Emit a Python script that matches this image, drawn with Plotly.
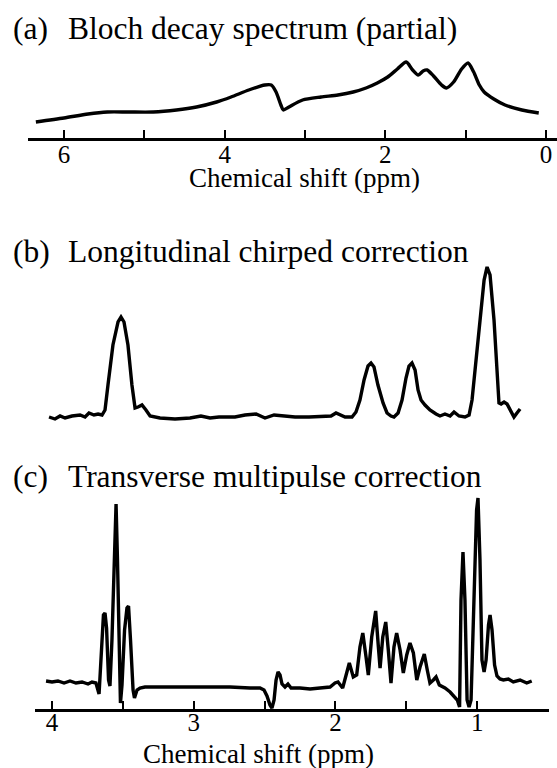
import plotly.graph_objects as go

W, H = 557, 768
FONT = "Liberation Serif"

# ---------------- data ----------------
# (a) Bloch decay spectrum: chemical shift (ppm) vs intensity (a.u.)
A_PPM = [6.35, 6.00, 5.70, 5.46, 5.20, 4.89, 4.60, 4.35, 4.10, 3.92, 3.70, 3.50, 3.42, 3.36, 3.30, 3.27,
         3.20, 3.03, 2.80, 2.59, 2.40, 2.24, 2.10, 1.97, 1.85, 1.74, 1.66, 1.59, 1.53, 1.48, 1.40,
         1.30, 1.24, 1.15, 1.05, 0.97, 0.90, 0.83, 0.77, 0.65, 0.51, 0.30, 0.09]
A_INT = [16, 20, 24, 26, 26, 26, 28, 31, 36, 41, 48, 53, 53, 46, 33, 28,
         31, 38, 41, 43, 46, 50, 55, 61, 69, 76, 68, 63, 67, 68, 62,
         53, 50, 56, 69, 75, 66, 53, 46, 39, 33, 28, 25]

# (b) Longitudinal chirped correction
B_PPM = [4.021, 3.979, 3.943, 3.908, 3.859, 3.802, 3.767, 3.739, 3.704, 3.675, 3.647, 3.626, 3.605,
         3.570, 3.534, 3.513, 3.492, 3.464, 3.436, 3.414, 3.393, 3.365, 3.337, 3.308, 3.238, 3.132,
         3.026, 2.949, 2.885, 2.822, 2.709, 2.638, 2.560, 2.497, 2.433, 2.285, 2.186, 2.031, 1.996,
         1.932, 1.883, 1.855, 1.827, 1.798, 1.770, 1.749, 1.728, 1.700, 1.664, 1.636, 1.608, 1.587,
         1.558, 1.530, 1.502, 1.481, 1.460, 1.438, 1.417, 1.396, 1.368, 1.333, 1.290, 1.262, 1.227,
         1.191, 1.163, 1.128, 1.086, 1.057, 1.036, 1.008, 0.980, 0.951, 0.930, 0.909, 0.881, 0.860,
         0.846, 0.831, 0.810, 0.789, 0.761, 0.740, 0.719, 0.697]
B_INT = [3, 1, 4, 2, 4, 5, 3, 7, 5, 6, 5, 10, 35,
         75, 98, 103, 98, 75, 35, 12, 13, 15, 10, 4, 2, 1,
         2, 4, 2, 3, 3, 5, 6, 2, 5, 3, 3, 4, 7,
         3, 3, 8, 20, 40, 54, 57, 53, 35, 17, 7, 4, 3,
         7, 20, 42, 54, 57, 50, 30, 20, 15, 10, 6, 4, 6,
         4, 8, 4, 3, 5, 20, 60, 100, 140, 153, 145, 100, 50,
         17, 16, 18, 16, 8, 3, 7, 11]

# (c) Transverse multipulse correction
C_PPM = [4.042, 4.000, 3.958, 3.915, 3.873, 3.831, 3.788, 3.746, 3.718, 3.690, 3.668, 3.651, 3.637,
         3.626, 3.615, 3.601, 3.591, 3.577, 3.563, 3.548, 3.538, 3.527, 3.517, 3.506, 3.488, 3.471,
         3.460, 3.446, 3.428, 3.418, 3.400, 3.379, 3.344, 3.167, 2.956, 2.744, 2.603, 2.532, 2.504,
         2.483, 2.462, 2.448, 2.433, 2.419, 2.405, 2.391, 2.377, 2.356, 2.335, 2.313, 2.250, 2.179,
         2.109, 2.038, 2.003, 1.982, 1.949, 1.920, 1.902, 1.874, 1.850, 1.827, 1.807, 1.784, 1.768,
         1.744, 1.716, 1.697, 1.685, 1.666, 1.645, 1.627, 1.608, 1.587, 1.568, 1.544, 1.521, 1.497,
         1.474, 1.450, 1.426, 1.403, 1.373, 1.352, 1.333, 1.309, 1.290, 1.267, 1.227, 1.191, 1.156,
         1.140, 1.124, 1.114, 1.100, 1.086, 1.071, 1.057, 1.043, 1.022, 1.004, 0.994, 0.980, 0.966,
         0.951, 0.937, 0.920, 0.909, 0.895, 0.877, 0.860, 0.839, 0.815, 0.780, 0.745, 0.697, 0.650,
         0.615]
C_INT = [28, 27, 28, 26, 28, 26, 27, 25, 27, 26, 15, 59, 94,
         96, 81, 29, 23, 69, 149, 205, 149, 49, 6, 24, 79, 101,
         103, 69, 19, 11, 19, 21, 22, 22, 22, 22, 21, 21, 19,
         13, 4, 1, 9, 29, 37, 34, 25, 22, 25, 21, 21, 20,
         21, 22, 26, 27, 21, 36, 46, 32, 34, 62, 76, 52, 34,
         72, 98, 62, 41, 72, 87, 59, 26, 62, 76, 59, 36, 54,
         66, 56, 29, 42, 55, 39, 26, 29, 32, 24, 21, 17, 11,
         9, 2, 109, 157, 109, 9, 2, 9, 129, 199, 211, 149, 49,
         37, 49, 84, 94, 79, 44, 33, 30, 29, 30, 27, 29, 26,
         28]

TITLES = ["Bloch decay spectrum (partial)", "Longitudinal chirped correction",
          "Transverse multipulse correction"]
LABELS = ["(a)", "(b)", "(c)"]
AXIS_TITLE = "Chemical shift (ppm)"

# ---------------- figure ----------------
def py(px):
    return 1 - px / H

def pxx(px):
    return px / W

fig = go.Figure()
line = dict(color="black", width=3.4)
fig.add_trace(go.Scatter(x=A_PPM, y=A_INT, mode="lines", line=dict(shape="spline", smoothing=0.7, **line),
                         xaxis="x", yaxis="y", showlegend=False, hoverinfo="skip"))
fig.add_trace(go.Scatter(x=B_PPM, y=B_INT, mode="lines", line=line,
                         xaxis="x2", yaxis="y2", showlegend=False, hoverinfo="skip"))
fig.add_trace(go.Scatter(x=C_PPM, y=C_INT, mode="lines", line=line,
                         xaxis="x3", yaxis="y3", showlegend=False, hoverinfo="skip"))

tickfont = dict(family=FONT, size=25, color="black")
common_x = dict(showline=True, linecolor="black", linewidth=2.5, showgrid=False, zeroline=False,
                ticks="inside", ticklen=8, tickwidth=2, tickcolor="black", tickfont=tickfont)

fig.update_layout(
    width=W, height=H, margin=dict(l=0, r=0, t=0, b=0),
    paper_bgcolor="white", plot_bgcolor="white",
    xaxis=dict(domain=[pxx(28), 1.0], range=[6.448, -0.137], anchor="y", tick0=0, dtick=2,
               minor=dict(ticks="inside", dtick=1, tick0=0, ticklen=8, tickwidth=2, tickcolor="black"),
               ticklabelstandoff=-8, **common_x),
    yaxis=dict(domain=[py(138), py(58)], range=[0, 80], visible=False, anchor="x"),
    xaxis2=dict(domain=[pxx(35), pxx(548)], range=[4.12, 0.5], visible=False, anchor="y2"),
    yaxis2=dict(domain=[py(425), py(260)], range=[-5, 160], visible=False, anchor="x2"),
    xaxis3=dict(domain=[pxx(35), pxx(549)], range=[4.12, 0.493], anchor="y3", tick0=0, dtick=1,
                minor=dict(ticks="inside", dtick=0.5, tick0=0, ticklen=8, tickwidth=2, tickcolor="black"),
                ticklabelstandoff=-11, **common_x),
    yaxis3=dict(domain=[py(709), py(494)], range=[0, 215], visible=False, anchor="x3"),
)

title_font = dict(family=FONT, size=31.5, color="black")
for lab, txt, cy in zip(LABELS, TITLES, [29, 251, 476]):
    fig.add_annotation(xref="paper", yref="paper", x=pxx(11), y=py(cy), text=lab, showarrow=False,
                       xanchor="left", yanchor="middle", font=title_font)
    fig.add_annotation(xref="paper", yref="paper", x=pxx(66), y=py(cy), text=txt, showarrow=False,
                       xanchor="left", yanchor="middle", font=title_font)

ax_font = dict(family=FONT, size=27, color="black")
for cx, cy in [(304, 178), (258, 754)]:
    fig.add_annotation(xref="paper", yref="paper", x=pxx(cx), y=py(cy), text=AXIS_TITLE, showarrow=False,
                       xanchor="center", yanchor="middle", font=ax_font)

fig.write_html("out.html")
